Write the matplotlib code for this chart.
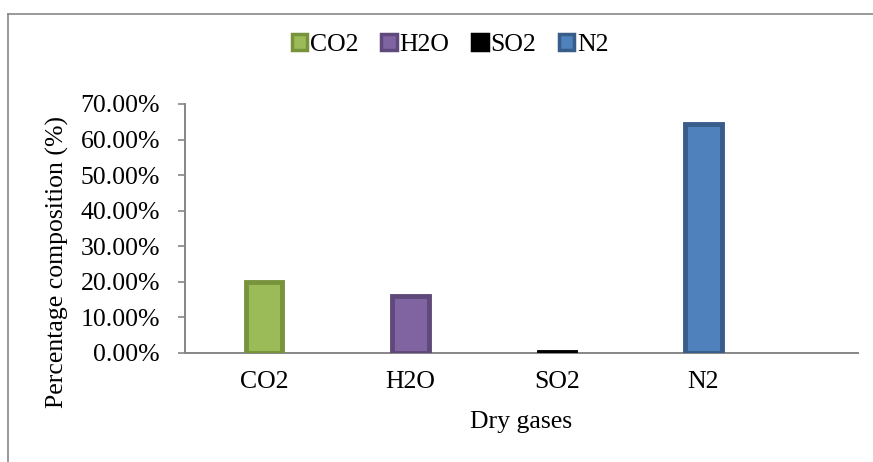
import matplotlib.pyplot as plt
from matplotlib.patches import Patch
from matplotlib.lines import Line2D
from matplotlib.ticker import FuncFormatter

# dry flue gas composition (fraction)
gases = ['CO2', 'H2O', 'SO2', 'N2']
composition = [0.200, 0.160, 0.002, 0.645]
fill_colors = ['#9BBB59', '#8064A2', '#000000', '#4F81BD']
edge_colors = ['#77933C', '#5F497A', '#000000', '#385D8A']

plt.rcParams['font.family'] = ['Liberation Serif', 'DejaVu Serif']
fs = 18.5

fig = plt.figure(figsize=(8.73, 4.62), dpi=100)
ax = fig.add_axes([185/873, 1-352.7/462, (858-185)/873, (352.7-104)/462])

x = list(range(len(gases)))
ax.bar(x, composition, width=0.25, color=fill_colors, edgecolor=edge_colors,
       linewidth=3.5, zorder=3)

ax.set_ylim(0, 0.7)
ax.set_xlim(-0.539, 4.055)
ax.set_yticks([i/10 for i in range(8)])
ax.yaxis.set_major_formatter(FuncFormatter(lambda v, p: f'{v*100:.2f}%'))
ax.set_xticks(x)
ax.set_xticklabels(gases)

for s in ['top', 'right']:
    ax.spines[s].set_visible(False)
for s in ['left', 'bottom']:
    ax.spines[s].set_color('#868686')
    ax.spines[s].set_linewidth(1.4)
ax.tick_params(axis='y', direction='out', length=5, width=1.2, color='#868686',
               labelsize=fs, pad=13)
ax.tick_params(axis='x', length=0, labelsize=fs, pad=13)

fig.text(57/873, 1-262/462, 'Percentage composition (%)', rotation=90,
         ha='center', va='center', fontsize=fs)
fig.text(521/873, 1-422/462, 'Dry gases', ha='center', va='center', fontsize=fs)

handles = [Patch(facecolor=f, edgecolor=e, linewidth=2.5, label=g)
           for g, f, e in zip(gases, fill_colors, edge_colors)]
fig.legend(handles=handles, loc='center', bbox_to_anchor=(450/873, 1-45/462),
           ncol=4, frameon=False, fontsize=fs, handlelength=0.6,
           handleheight=0.6, handletextpad=0.1, columnspacing=0.9)

# chart border
fig.add_artist(Line2D([8/873, 1], [1-13.5/462, 1-13.5/462], color='#888888', lw=1.2))
fig.add_artist(Line2D([8/873, 8/873], [0, 1-13.5/462], color='#888888', lw=1.2))

fig.savefig('out.png', dpi=100)
